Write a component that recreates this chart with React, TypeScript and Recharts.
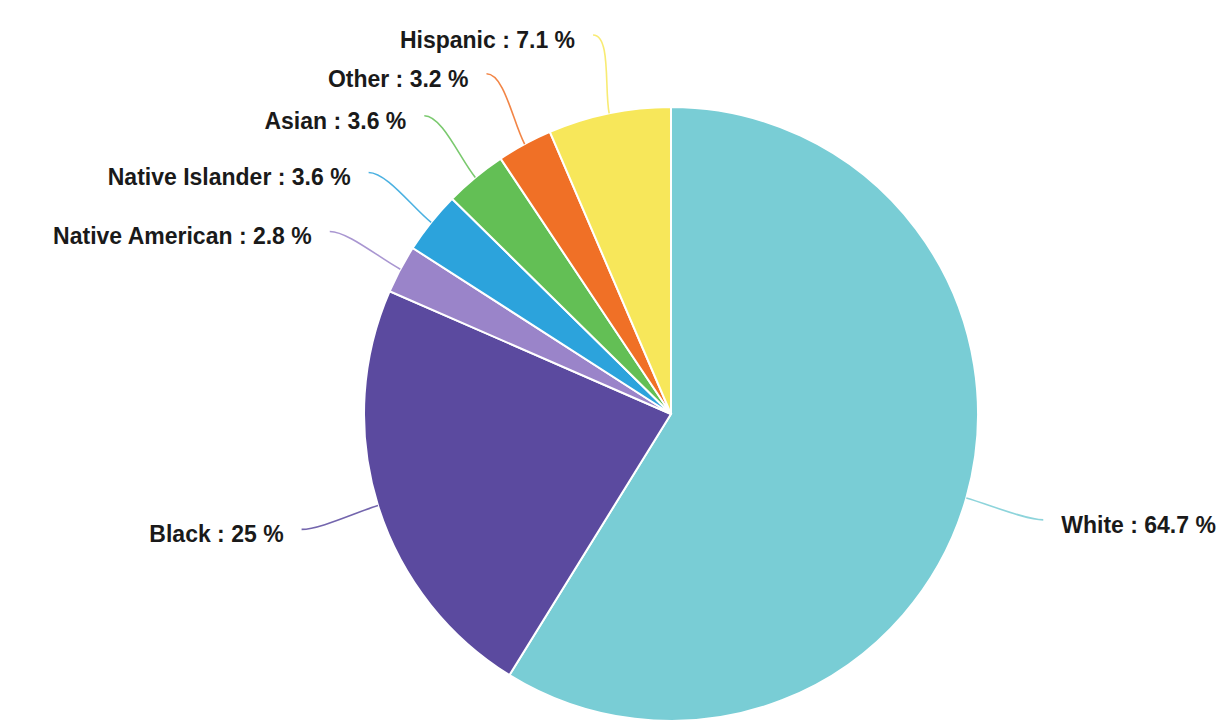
import React from "react";
import { PieChart, Pie, Cell } from "recharts";

const categories = ["White", "Black", "Native American", "Native Islander", "Asian", "Other", "Hispanic"];
const values = [64.7, 25, 2.8, 3.6, 3.6, 3.2, 7.1];
const colors = ["#79cdd5", "#5b4a9f", "#9a84c9", "#2ca3dc", "#63bf55", "#f07026", "#f7e75a"];

const data = categories.map((name, i) => ({ name, value: values[i] }));

const RADIAN = Math.PI / 180;
const LABEL_OFFSET = 80;

const renderLabel = (props: any) => {
  const { cx, cy, midAngle, outerRadius, name, value, index } = props;
  const cos = Math.cos(-midAngle * RADIAN);
  const sin = Math.sin(-midAngle * RADIAN);
  const x0 = cx + outerRadius * cos;
  const y0 = cy + outerRadius * sin;
  const x1 = cx + (outerRadius + 24) * cos;
  const y1 = cy + (outerRadius + 24) * sin;
  const px = cx + (outerRadius + LABEL_OFFSET) * cos;
  const py = cy + (outerRadius + LABEL_OFFSET) * sin;
  const dir = cos >= 0 ? 1 : -1;
  const x2 = px - dir * 18;
  const d = `M${x0},${y0} C${x1},${y1} ${x2},${py} ${px},${py}`;
  const col = colors[index % colors.length];
  return (
    <g>
      <path d={d} fill="none" stroke={col} strokeOpacity={0.85} strokeWidth={1.6} />
      <text
        x={px + dir * 18}
        y={py + 5}
        textAnchor={dir > 0 ? "start" : "end"}
        dominantBaseline="central"
        fontFamily="'Liberation Sans', Arial, sans-serif"
        fontWeight="bold"
        fontSize={23}
        fill="#1a1a1a"
      >
        {`${name} : ${value} %`}
      </text>
    </g>
  );
};

export default function App() {
  return (
    <div style={{ position: "absolute", left: 0, top: 0, width: 1228, height: 726, background: "#fff" }}>
      <PieChart width={1228} height={726} margin={{ top: 0, right: 0, bottom: 0, left: 0 }}>
        <Pie
          data={data}
          dataKey="value"
          nameKey="name"
          cx={671}
          cy={414}
          outerRadius={307}
          startAngle={90}
          endAngle={-270}
          stroke="#ffffff"
          strokeWidth={2}
          label={renderLabel}
          labelLine={false}
          isAnimationActive={false}
        >
          {data.map((entry, i) => (
            <Cell key={entry.name} fill={colors[i]} />
          ))}
        </Pie>
      </PieChart>
    </div>
  );
}
